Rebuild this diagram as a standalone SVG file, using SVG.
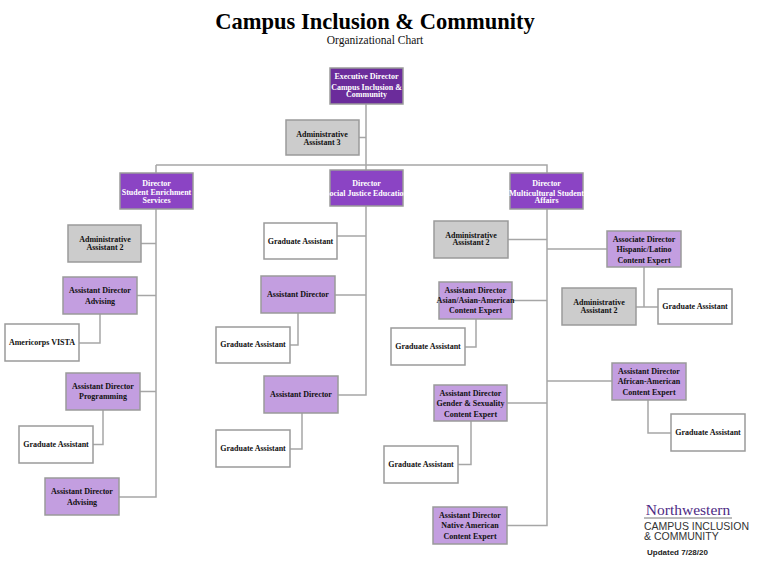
<svg xmlns="http://www.w3.org/2000/svg" width="758" height="574" viewBox="0 0 758 574">
<style>
text{font-family:"Liberation Serif","DejaVu Serif",serif;text-anchor:middle}
.b{stroke:#9a9a9a;stroke-width:1.5}
.exec{fill:#6b2c9b}.dir{fill:#8b44c4}.ad{fill:#c39ee0}.adm{fill:#cccccc}.ga{fill:#ffffff}
.n text{font-size:8px;font-weight:bold;fill:#111}
.w text{fill:#fff}
#connectors path{fill:none;stroke:#a6a6a6;stroke-width:1.5}
</style>
<rect width="758" height="574" fill="#fff"/>
<text x="375" y="29" font-size="22.5" font-weight="bold" fill="#000">Campus Inclusion &amp; Community</text>
<text x="375" y="44" font-size="11.5" fill="#111">Organizational Chart</text>
<g id="connectors">
<path d="M366 104V395H338M359 137.500H366M156 165H547V173M156 173V165M366 170V165"/>
<path d="M156 209V497H119M141 243.500H156M137 295.500H156M100 314V343H79M140 391.500H156M103 410V444.500H93"/>
<path d="M337 236H366M335 295H366M298 313V345H290M302 413V449H290"/>
<path d="M547 209V525.500H507M508 239.500H547M547 249H607M512 300.500H547M476 319V347H465M507 403H547M471 421V464.500H458M547 381H612M644 267V307M636 307H658M648 400V433H671"/>
</g>
<g id="exec" class="n w"><rect class="b exec" x="330" y="68" width="73" height="36"/><text x="366.500" y="79">Executive Director</text><text x="366.500" y="90">Campus Inclusion &amp;</text><text x="366.500" y="97">Community</text></g>
<g id="admin3" class="n"><rect class="b adm" x="286" y="120" width="73" height="35"/><text x="322" y="136.500">Administrative</text><text x="322" y="144.500">Assistant 3</text></g>
<g id="dir-ses" class="n w"><rect class="b dir" x="120" y="173" width="73" height="36"/><text x="156.500" y="185.500">Director</text><text x="156.500" y="195">Student Enrichment</text><text x="156.500" y="202.500">Services</text></g>
<g id="dir-sje" class="n w"><rect class="b dir" x="330" y="170" width="73" height="36"/><text x="366.500" y="185.500">Director</text><text x="366.500" y="195.500">Social Justice Education</text></g>
<g id="dir-msa" class="n w"><rect class="b dir" x="510" y="173" width="73" height="36"/><text x="546.500" y="185.500">Director</text><text x="546.500" y="195.500">Multicultural Student</text><text x="546.500" y="202.500">Affairs</text></g>
<g id="ses-admin" class="n"><rect class="b adm" x="68" y="225" width="73" height="37"/><text x="105" y="242">Administrative</text><text x="105" y="250">Assistant 2</text></g>
<g id="ses-ad1" class="n"><rect class="b ad" x="63" y="277" width="74" height="37"/><text x="100" y="293">Assistant Director</text><text x="100" y="304">Advising</text></g>
<g id="ses-vista" class="n"><rect class="b ga" x="5" y="324" width="74" height="37"/><text x="42" y="345">Americorps VISTA</text></g>
<g id="ses-ad2" class="n"><rect class="b ad" x="66" y="373" width="74" height="37"/><text x="103" y="389">Assistant Director</text><text x="103" y="399">Programming</text></g>
<g id="ses-ga" class="n"><rect class="b ga" x="19" y="426" width="74" height="37"/><text x="56" y="447">Graduate Assistant</text></g>
<g id="ses-ad3" class="n"><rect class="b ad" x="45" y="478" width="74" height="37"/><text x="82" y="494">Assistant Director</text><text x="82" y="505">Advising</text></g>
<g id="sje-ga1" class="n"><rect class="b ga" x="264" y="223" width="73" height="36"/><text x="300.500" y="244">Graduate Assistant</text></g>
<g id="sje-ad1" class="n"><rect class="b ad" x="261" y="276" width="74" height="37"/><text x="298" y="297">Assistant Director</text></g>
<g id="sje-ga2" class="n"><rect class="b ga" x="216" y="327" width="74" height="36"/><text x="253" y="347">Graduate Assistant</text></g>
<g id="sje-ad2" class="n"><rect class="b ad" x="264" y="376" width="74" height="37"/><text x="301" y="397">Assistant Director</text></g>
<g id="sje-ga3" class="n"><rect class="b ga" x="216" y="430" width="74" height="37"/><text x="253" y="451">Graduate Assistant</text></g>
<g id="msa-admin" class="n"><rect class="b adm" x="434" y="221" width="74" height="37"/><text x="471" y="238">Administrative</text><text x="471" y="245">Assistant 2</text></g>
<g id="msa-asian" class="n"><rect class="b ad" x="439" y="282" width="73" height="37"/><text x="475.500" y="293">Assistant Director</text><text x="475.500" y="303">Asian/Asian-American</text><text x="475.500" y="313">Content Expert</text></g>
<g id="msa-ga1" class="n"><rect class="b ga" x="391" y="328" width="74" height="37"/><text x="428" y="349">Graduate Assistant</text></g>
<g id="msa-gender" class="n"><rect class="b ad" x="434" y="385" width="73" height="36"/><text x="470.500" y="396">Assistant Director</text><text x="470.500" y="406">Gender &amp; Sexuality</text><text x="470.500" y="417">Content Expert</text></g>
<g id="msa-ga2" class="n"><rect class="b ga" x="384" y="446" width="74" height="37"/><text x="421" y="467">Graduate Assistant</text></g>
<g id="msa-native" class="n"><rect class="b ad" x="433" y="507" width="74" height="37"/><text x="470" y="518">Assistant Director</text><text x="470" y="528">Native American</text><text x="470" y="539">Content Expert</text></g>
<g id="msa-assoc" class="n"><rect class="b ad" x="607" y="231" width="74" height="36"/><text x="644" y="241.500">Associate Director</text><text x="644" y="251.500">Hispanic/Latino</text><text x="644" y="262.500">Content Expert</text></g>
<g id="msa-admin2" class="n"><rect class="b adm" x="562" y="288" width="74" height="37"/><text x="599" y="305">Administrative</text><text x="599" y="313">Assistant 2</text></g>
<g id="msa-ga3" class="n"><rect class="b ga" x="658" y="289" width="74" height="35"/><text x="695" y="309">Graduate Assistant</text></g>
<g id="msa-african" class="n"><rect class="b ad" x="612" y="363" width="74" height="37"/><text x="649" y="374">Assistant Director</text><text x="649" y="384">African-American</text><text x="649" y="395">Content Expert</text></g>
<g id="msa-ga4" class="n"><rect class="b ga" x="671" y="414" width="74" height="37"/><text x="708" y="435">Graduate Assistant</text></g>
<g id="logo">
<text x="688" y="515" font-size="15.500" fill="#4e2a84">Northwestern</text>
<path d="M644 518H732" stroke="#777" stroke-width="1"/>
<text x="644" y="530" font-size="10.500" fill="#333" style="font-family:'Liberation Sans',sans-serif;text-anchor:start">CAMPUS INCLUSION</text>
<text x="644" y="540" font-size="10.500" fill="#333" style="font-family:'Liberation Sans',sans-serif;text-anchor:start">&amp; COMMUNITY</text>
<text x="647" y="555" font-size="8" font-weight="bold" fill="#222" style="font-family:'Liberation Sans',sans-serif;text-anchor:start">Updated 7/28/20</text>
</g>
</svg>
